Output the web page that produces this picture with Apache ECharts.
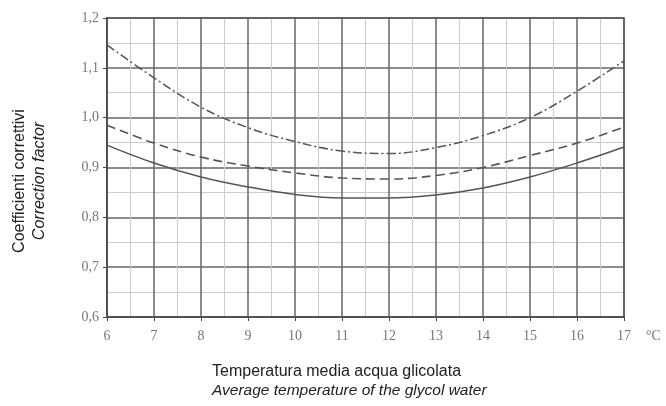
<!DOCTYPE html>
<html>
<head>
<meta charset="utf-8">
<script src="https://cdn.jsdelivr.net/npm/echarts@6/dist/echarts.min.js"></script>
<style>
  html, body { margin: 0; padding: 0; background: #fff; }
  #chart { width: 666px; height: 406px; }
</style>
</head>
<body>
<div id="chart"></div>
<script>
// Average glycol water temperature (°C)
const temperatures = [6, 7, 8, 9, 10, 11, 12, 13, 14, 15, 16, 17];
// Correction factors, one curve per line style
const upperCurve  = [1.146, 1.080, 1.021, 0.980, 0.952, 0.933, 0.928, 0.940, 0.964, 1.000, 1.053, 1.114];
const middleCurve = [0.985, 0.949, 0.921, 0.903, 0.889, 0.879, 0.877, 0.884, 0.900, 0.924, 0.949, 0.981];
const lowerCurve  = [0.945, 0.909, 0.881, 0.861, 0.846, 0.839, 0.839, 0.845, 0.859, 0.881, 0.909, 0.941];

const yTitleIt = 'Coefficienti correttivi';
const yTitleEn = 'Correction factor';
const xTitleIt = 'Temperatura media acqua glicolata';
const xTitleEn = 'Average temperature of the glycol water';
const xUnit = '°C';

const pairs = arr => temperatures.map((t, i) => [t, arr[i]]);
const lineColor = '#555';

const chart = echarts.init(document.getElementById('chart'), null, { renderer: 'canvas' });

const tickFont = { fontFamily: 'Liberation Serif', fontSize: 14, color: '#777' };

chart.setOption({
  animation: false,
  grid: { left: 107, right: 42, top: 18, bottom: 89, containLabel: false },
  xAxis: {
    type: 'value', min: 6, max: 17, interval: 1,
    name: xUnit, nameLocation: 'end', nameGap: 22,
    nameTextStyle: Object.assign({}, tickFont, { verticalAlign: 'top', padding: [12, 0, 0, 0] }),
    axisLine: { show: true, lineStyle: { color: '#444', width: 2 } },
    axisTick: { show: true, length: 4, lineStyle: { color: '#444' } },
    axisLabel: Object.assign({ margin: 12 }, tickFont),
    splitLine: { show: true, lineStyle: { color: '#666', width: 1.5 } },
    minorTick: { show: false, splitNumber: 2 },
    minorSplitLine: { show: true, lineStyle: { color: '#ccc', width: 1 } }
  },
  yAxis: {
    type: 'value', min: 0.6, max: 1.2, interval: 0.1,
    axisLine: { show: true, lineStyle: { color: '#444', width: 2 } },
    axisTick: { show: true, length: 4, lineStyle: { color: '#444' } },
    axisLabel: Object.assign({
      margin: 8,
      formatter: v => v.toFixed(1).replace('.', ',')
    }, tickFont),
    splitLine: { show: true, lineStyle: { color: '#666', width: 1.5 } },
    minorTick: { show: false, splitNumber: 2 },
    minorSplitLine: { show: true, lineStyle: { color: '#ccc', width: 1 } }
  },
  graphic: [
    // frame on the top and right edges
    { type: 'rect', shape: { x: 107, y: 18, width: 517, height: 299 },
      style: { fill: 'none', stroke: '#555', lineWidth: 1.5 }, silent: true, z: 10 },
    { type: 'text', x: 20, y: 181, rotation: Math.PI / 2,
      style: { text: yTitleIt, font: '16px "Liberation Sans"', fill: '#222',
               textAlign: 'center', textVerticalAlign: 'middle' } },
    { type: 'text', x: 40, y: 181, rotation: Math.PI / 2,
      style: { text: yTitleEn, font: 'italic 16px "Liberation Sans"', fill: '#222',
               textAlign: 'center', textVerticalAlign: 'middle' } },
    { type: 'text', x: 212, y: 372,
      style: { text: xTitleIt, font: '16px "Liberation Sans"', fill: '#222',
               textAlign: 'left', textVerticalAlign: 'middle' } },
    { type: 'text', x: 212, y: 391,
      style: { text: xTitleEn, font: 'italic 15.5px "Liberation Sans"', fill: '#222',
               textAlign: 'left', textVerticalAlign: 'middle' } }
  ],
  series: [
    { type: 'line', data: pairs(upperCurve), smooth: 0.4, showSymbol: false,
      lineStyle: { color: lineColor, width: 1.5, type: [9, 3, 2, 3] } },
    { type: 'line', data: pairs(middleCurve), smooth: 0.4, showSymbol: false,
      lineStyle: { color: lineColor, width: 1.6, type: [9, 5] } },
    { type: 'line', data: pairs(lowerCurve), smooth: 0.4, showSymbol: false,
      lineStyle: { color: lineColor, width: 1.5, type: 'solid' } }
  ]
});
</script>
</body>
</html>
